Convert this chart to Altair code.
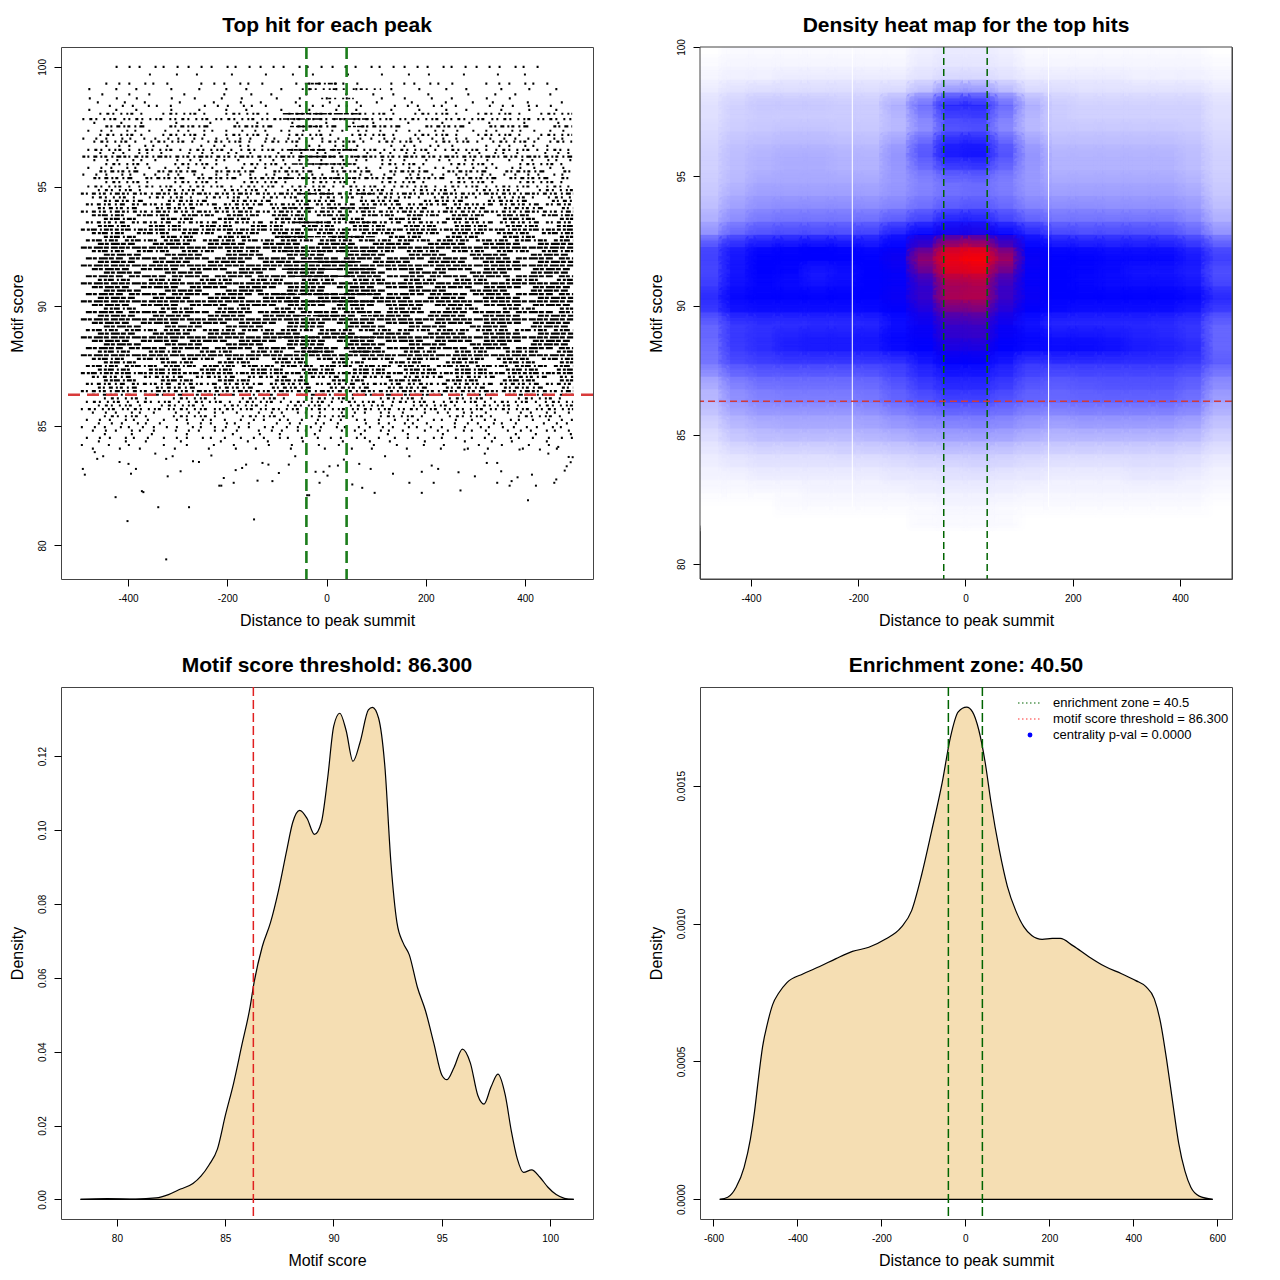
import altair as alt
import pandas as pd

FONT = "Liberation Sans"

# ---------------- values ----------------
enrichment_zone = 40.5
score_threshold = 86.3
titles = ["Top hit for each peak", "Density heat map for the top hits",
          "Motif score threshold: 86.300", "Enrichment zone: 40.50"]
legend_labels = ["enrichment zone = 40.5", "motif score threshold = 86.300",
                 "centrality p-val = 0.0000"]

# ---- panel 1: top hit per peak (rows of hits at discrete motif scores) ----
hit_span = [-495, 497]
sparse_score = [100.0, 99.68, 99.30, 99.07, 98.85, 98.68, 98.52, 98.37, 98.20, 98.04,
                97.82, 97.66, 97.51, 97.33, 97.16, 97.00, 96.88, 96.70, 96.53, 96.40,
                96.25, 96.10, 95.94, 95.78, 95.63, 95.50, 95.35, 95.18, 95.00]
sparse_x1 = [-425, -380, -492, -490, -488, -479, -485, -485, -490, -492,
             -492, -492, -492, -492, -492, -492, -492, -492, -492, -492,
             -492, -492, -492, -492, -492, -492, -492, -492, -492]
sparse_x2 = [438, 422, 488, 490, 470, 406, 480, 480, 492, 495,
             495, 495, 495, 495, 495, 495, 495, 495, 495, 495,
             495, 495, 495, 495, 495, 495, 495, 495, 495]
sparse_cls = [2, 1, 2, 1, 1, 1, 1, 2, 1, 3,
              3, 1, 4, 2, 3, 2, 3, 2, 3, 2,
              4, 2, 3, 2, 4, 2, 4, 3, 3]

dense_score = [94.85, 94.70, 94.55, 94.40, 94.25, 94.10, 93.95, 93.80, 93.65, 93.50,
               93.35, 93.20, 93.05, 92.90, 92.75, 92.60, 92.45, 92.30, 92.15, 92.00,
               91.85, 91.70, 91.55, 91.40, 91.25, 91.10, 90.95, 90.80, 90.65, 90.50,
               90.35, 90.20, 90.05, 89.90, 89.75, 89.60, 89.45, 89.30, 89.15, 89.00,
               88.85, 88.70, 88.55, 88.40, 88.25, 88.10, 87.95, 87.80, 87.65, 87.50,
               87.35, 87.20, 87.05, 86.90, 86.75, 86.60, 86.45, 86.30, 86.15, 86.00,
               85.85, 85.70, 85.55, 85.40, 85.25, 85.10, 84.95, 84.80, 84.65, 84.50,
               84.35, 84.20, 84.05]
dense_cls = [3, 4, 3, 4, 4, 4, 4, 5, 5, 4,
             5, 5, 5, 5, 5, 6, 6, 5, 6, 6,
             6, 6, 6, 6, 6, 5, 6, 6, 6, 6,
             6, 6, 6, 5, 6, 6, 6, 6, 6, 5,
             6, 6, 6, 6, 6, 5, 6, 5, 5, 5,
             5, 5, 4, 5, 4, 4, 4, 4, 3, 3,
             3, 3, 2, 3, 2, 2, 2, 2, 1, 2,
             1, 1, 1]

center_score = [99.30, 99.07, 98.68, 98.04, 97.82, 97.51, 96.53, 96.25, 95.94, 95.35,
                94.70, 94.10, 93.50, 92.90, 92.30, 91.85, 91.55, 91.25, 90.50, 90.20,
                89.60, 88.70, 88.10]
center_x1 = [-90, -60, -45, -88, -110, -120, -90, -90, -70, -120,
             -100, -100, -100, -100, -100, -100, -100, -100, -100, -100,
             -100, -100, -100]
center_x2 = [55, 110, 55, 68, 85, 85, 60, 70, 60, 85,
             100, 100, 100, 100, 100, 100, 100, 100, 100, 100,
             100, 100, 100]
center_cls = [5, 3, 3, 6, 6, 5, 6, 6, 6, 5,
              5, 5, 6, 6, 6, 7, 7, 7, 7, 6,
              6, 6, 6]

low_x = [-491, -487, -462, -450, -467, -425, -417, -399, -394, -384, -372, -369, -339, -401,
         -345, -323, -320, -310, -294, -277, -269, -257, -232, -216, -212, -207, -187, -183,
         -170, -162, -146, -139, -129, -117, -109, -96, -76, -63, -39, -35, -22, -14, -6, 2,
         6, 23, 35, 52, 66, 72, 89, 97, 118, 134, 167, 167, 192, 192, 212, 216, 225, 266,
         270, 278, 299, 319, 323, 344, 344, 352, 369, 373, 385, 389, 406, 414, 422, 430,
         459, 463, 480, 488, 492, 496, 447, 467, 484, -323]
low_score = [83.20, 82.96, 83.62, 83.73, 83.90, 82.02, 83.49, 83.41, 83.00, 83.20, 82.27, 82.23,
             81.60, 81.02, 83.84, 83.62, 82.89, 83.73, 83.10, 81.60, 83.52, 83.49, 83.76, 82.50,
             82.50, 82.82, 82.62, 83.15, 83.24, 83.38, 81.09, 82.71, 83.45, 83.38, 82.69, 83.03,
             83.38, 83.73, 82.10, 82.10, 83.08, 82.62, 83.08, 82.92, 83.31, 83.34, 83.59, 82.55,
             83.41, 82.41, 83.20, 82.20, 83.73, 83.00, 83.73, 82.62, 83.08, 82.20, 83.34, 82.62,
             83.20, 83.06, 82.30, 84.01, 82.89, 83.84, 83.45, 83.45, 82.62, 83.10, 82.50, 82.69,
             82.85, 84.01, 81.89, 82.96, 82.50, 84.01, 82.62, 82.76, 83.13, 83.70, 83.48, 83.69,
             83.84, 84.12, 83.31, 79.42]

# ---- panel 2: density heat map (percent scale: 50 = blue, 100 = red) ----
hm_col_edges = [-500, -450, -400, -350, -300, -250, -200, -150, -100, -50, 0,
                50, 100, 150, 200, 250, 300, 350, 400, 450, 500]
hm_row_edges = [100.0, 99.5, 99.0, 98.5, 98.0, 97.5, 97.0, 96.5, 96.0, 95.5, 95.0,
                94.5, 94.0, 93.5, 93.0, 92.5, 92.0, 91.5, 91.0, 90.5, 90.0,
                89.5, 89.0, 88.5, 88.0, 87.5, 87.0, 86.5, 86.0, 85.5, 85.0,
                84.5, 84.0, 83.5, 83.0, 82.5, 82.0, 81.5]
hm_values = [
    [0, 1, 1, 1, 1, 1, 1, 1, 3, 4, 4, 3, 1, 1, 1, 1, 1, 1, 1, 0],
    [1, 2, 2, 2, 2, 2, 2, 2, 4, 5, 5, 4, 2, 2, 2, 2, 2, 2, 2, 1],
    [2, 3, 3, 4, 4, 4, 4, 4, 6, 8, 8, 6, 4, 4, 4, 4, 3, 3, 3, 2],
    [4, 6, 7, 7, 7, 7, 7, 8, 14, 22, 22, 15, 8, 7, 6, 6, 6, 6, 6, 4],
    [6, 9, 11, 11, 11, 10, 10, 16, 29, 43, 43, 30, 16, 10, 9, 9, 9, 9, 9, 6],
    [6, 9, 10, 10, 10, 10, 10, 14, 24, 36, 37, 25, 14, 10, 9, 9, 9, 9, 9, 6],
    [7, 10, 11, 12, 12, 11, 11, 14, 22, 33, 34, 23, 14, 11, 11, 11, 11, 11, 10, 7],
    [8, 12, 13, 14, 14, 13, 13, 19, 31, 44, 45, 32, 19, 13, 13, 13, 13, 13, 12, 8],
    [9, 13, 15, 16, 16, 15, 15, 21, 33, 45, 46, 34, 21, 15, 15, 15, 15, 15, 13, 9],
    [9, 13, 15, 16, 16, 15, 15, 20, 28, 36, 37, 29, 20, 15, 15, 15, 15, 15, 13, 9],
    [10, 14, 17, 17, 17, 17, 17, 20, 24, 28, 29, 25, 20, 17, 17, 17, 17, 17, 15, 10],
    [11, 16, 19, 19, 19, 19, 19, 21, 25, 28, 29, 26, 21, 19, 19, 19, 19, 19, 17, 11],
    [13, 19, 22, 23, 23, 23, 23, 25, 29, 33, 34, 30, 25, 23, 23, 22, 22, 22, 20, 13],
    [16, 23, 27, 28, 28, 28, 29, 33, 38, 45, 45, 38, 32, 28, 28, 28, 28, 28, 24, 16],
    [22, 31, 35, 36, 36, 36, 38, 45, 50, 54, 55, 50, 44, 37, 36, 36, 36, 35, 31, 22],
    [36, 44, 48, 49, 50, 49, 48, 50, 64, 88, 90, 68, 50, 48, 47, 46, 46, 46, 42, 34],
    [37, 46, 50, 50, 50, 50, 50, 53, 80, 97, 100, 83, 52, 50, 50, 49, 49, 49, 46, 38],
    [36, 46, 50, 49, 45, 47, 50, 51, 68, 92, 93, 69, 51, 50, 49, 48, 46, 46, 44, 34],
    [38, 47, 49, 48, 47, 48, 50, 51, 59, 81, 83, 61, 51, 50, 49, 48, 48, 48, 46, 37],
    [42, 49, 50, 50, 50, 50, 50, 52, 61, 84, 85, 62, 52, 50, 50, 50, 50, 50, 49, 43],
    [38, 46, 47, 47, 47, 47, 48, 50, 55, 70, 72, 56, 50, 48, 47, 47, 47, 47, 45, 37],
    [30, 38, 40, 40, 41, 41, 42, 47, 52, 61, 62, 52, 46, 42, 42, 42, 42, 41, 39, 30],
    [30, 39, 41, 44, 45, 45, 46, 49, 51, 59, 60, 51, 49, 47, 47, 46, 44, 43, 40, 30],
    [28, 38, 41, 44, 45, 45, 45, 48, 50, 54, 54, 50, 48, 48, 48, 47, 45, 44, 42, 30],
    [27, 35, 37, 38, 38, 38, 38, 39, 45, 50, 50, 45, 39, 40, 40, 40, 40, 40, 38, 32],
    [20, 28, 31, 31, 31, 31, 32, 36, 41, 45, 45, 41, 36, 34, 35, 35, 35, 35, 33, 25],
    [15, 23, 26, 27, 27, 27, 28, 32, 37, 41, 41, 37, 32, 31, 32, 33, 33, 33, 30, 21],
    [14, 21, 24, 25, 25, 25, 26, 30, 33, 36, 36, 33, 30, 29, 30, 30, 30, 30, 27, 18],
    [11, 16, 19, 19, 19, 19, 20, 23, 26, 28, 28, 26, 23, 22, 23, 23, 23, 23, 21, 14],
    [8, 13, 15, 16, 16, 16, 17, 19, 21, 22, 23, 21, 19, 17, 18, 18, 18, 18, 16, 11],
    [6, 10, 12, 12, 12, 12, 13, 14, 16, 17, 17, 16, 14, 13, 13, 13, 13, 13, 12, 8],
    [4, 6, 7, 7, 7, 8, 8, 9, 10, 11, 11, 10, 9, 8, 8, 8, 8, 8, 7, 5],
    [3, 4, 5, 5, 5, 5, 5, 6, 7, 7, 8, 7, 6, 5, 5, 5, 6, 6, 5, 3],
    [2, 2, 3, 3, 3, 3, 3, 4, 4, 5, 5, 4, 4, 3, 3, 3, 4, 4, 3, 2],
    [1, 1, 1, 1, 2, 2, 2, 2, 3, 3, 3, 3, 2, 2, 2, 2, 2, 2, 2, 1],
    [0, 0, 0, 1, 1, 1, 1, 1, 1, 2, 2, 1, 1, 1, 1, 1, 1, 1, 1, 0],
    [0, 0, 0, 0, 0, 0, 0, 0, 1, 1, 1, 1, 0, 0, 0, 0, 0, 0, 0, 0],
]
hm_seam_x = [-211, 155]
hm_seam_bottom = 82.2

# ---- panel 3: density of motif scores ----
score_x = [78.32, 79.55, 80.87, 81.81, 82.38, 82.94, 83.51, 83.88, 84.26, 84.64,
           85.01, 85.39, 85.77, 86.15, 86.33, 86.71, 87.09, 87.46, 87.84, 88.12,
           88.44, 88.78, 89.12, 89.44, 89.73, 90.01, 90.29, 90.58, 90.90, 91.23,
           91.61, 91.80, 92.08, 92.37, 92.65, 92.93, 93.21, 93.50, 93.87, 94.25,
           94.63, 95.00, 95.23, 95.57, 95.95, 96.32, 96.66, 96.95, 97.27, 97.59,
           97.93, 98.21, 98.49, 98.77, 99.15, 99.53, 99.90, 100.28, 100.66, 101.09]
score_density = [0.0000, 0.0002, 0.0001, 0.0004, 0.0013, 0.0028, 0.0043, 0.0063, 0.0094, 0.0136,
                 0.0228, 0.0315, 0.0418, 0.0521, 0.0586, 0.0684, 0.0749, 0.0836, 0.0945, 0.1021,
                 0.1053, 0.1031, 0.0988, 0.1021, 0.1140, 0.1281, 0.1316, 0.1270, 0.1186, 0.1238,
                 0.1325, 0.1332, 0.1303, 0.1173, 0.0912, 0.0749, 0.0695, 0.0662, 0.0575, 0.0510,
                 0.0423, 0.0337, 0.0324, 0.0358, 0.0407, 0.0369, 0.0282, 0.0258, 0.0304, 0.0339,
                 0.0282, 0.0185, 0.0109, 0.0073, 0.0080, 0.0060, 0.0033, 0.0013, 0.0003, 0.0000]

# ---- panel 4: density of distances to the summit ----
dist_x = [-585, -566, -546, -527, -512, -502, -493, -483, -471, -459, -444, -425, -386,
          -347, -308, -269, -230, -191, -153, -128, -104, -80, -55, -36, -17, 3, 17, 32,
          47, 61, 81, 100, 120, 139, 158, 183, 207, 226, 256, 294, 333, 372, 406, 430,
          450, 465, 479, 494, 508, 523, 537, 557, 589]
dist_density = [0.0, 0.0000073, 0.0000436, 0.000116, 0.000218, 0.00032, 0.000436, 0.000553,
                0.00064, 0.000706, 0.000749, 0.000786, 0.000818, 0.000844, 0.000873, 0.000899,
                0.000914, 0.000943, 0.000986, 0.001047, 0.001178, 0.001338, 0.001513, 0.001673,
                0.001768, 0.001785, 0.001768, 0.001702, 0.001586, 0.00144, 0.001266, 0.001135,
                0.001047, 0.000989, 0.000957, 0.000943, 0.000946, 0.000946, 0.00092, 0.00088,
                0.000844, 0.000818, 0.000793, 0.000771, 0.000727, 0.00064, 0.000509, 0.000349,
                0.000204, 0.000102, 0.0000436, 0.0000116, 0.0]

# ---------------- styles ----------------
W = H = 532
BASE_DASH = {
    1: [2, 25, 2, 18, 2, 33, 2, 21],
    2: [2, 11, 2, 8, 2, 14, 2, 6, 2, 12, 2, 9],
    3: [2, 5, 3, 3, 2, 6, 2, 4, 2, 2, 3, 7, 2, 3],
    4: [3, 2, 2, 4, 4, 3, 2, 2, 3, 4, 2, 3, 5, 2],
    5: [4, 2, 3, 1, 6, 3, 2, 2, 5, 1, 3, 2],
    6: [6, 1, 4, 2, 9, 1, 5, 2, 7, 1],
    7: [20, 1, 14, 1, 25, 1],
}
SHIFTS = [0, 11, 23, 5, 17]
DASHES = {}
for c, pat in BASE_DASH.items():
    for k, s in enumerate(SHIFTS):
        DASHES[f"{c}_{k}"] = pat if s == 0 else [0, s] + pat
dash_scale = alt.Scale(domain=list(DASHES.keys()), range=list(DASHES.values()))


def title(t, offset=10):
    return alt.TitleParams(text=t, font=FONT, fontSize=21, fontWeight="bold",
                           color="black", offset=offset, anchor="middle", frame="group")


def xaxis(values, t, fmt=None):
    kw = dict(values=values, title=t, tickSize=7, labelPadding=12, labelBaseline="middle",
              titleX=W / 2, titleY=41, titleBaseline="middle", titleAlign="center")
    if fmt:
        kw["format"] = fmt
    else:
        kw["labelExpr"] = "'' + datum.value"
    return alt.Axis(**kw)


def yaxis(values, t, fmt=None):
    kw = dict(values=values, title=t, tickSize=7, labelPadding=12, labelAngle=270,
              labelAlign="center", labelBaseline="middle",
              titleX=-44, titleY=H / 2, titleAngle=270, titleAlign="center",
              titleBaseline="middle")
    if fmt:
        kw["format"] = fmt
    else:
        kw["labelExpr"] = "'' + datum.value"
    return alt.Axis(**kw)


box_df = pd.DataFrame({"k": [0]})


def frame_box():
    return alt.Chart(box_df).mark_rect(fill="white", fillOpacity=0, stroke="#444444", strokeWidth=1).encode(
        x=alt.value(0), x2=alt.value(W), y=alt.value(0), y2=alt.value(H))


# ---------------- panel 1 ----------------
X1 = alt.Scale(domain=[-535, 537], nice=False, zero=False)
Y1 = alt.Scale(domain=[78.6, 100.83], nice=False, zero=False)
ax1x = xaxis([-400, -200, 0, 200, 400], "Distance to peak summit")
ax1y = yaxis([80, 85, 90, 95, 100], "Motif score")

n_d = len(dense_score)
rows_df = pd.DataFrame({
    "score": sparse_score + dense_score,
    "x1": sparse_x1 + [hit_span[0]] * n_d,
    "x2": sparse_x2 + [hit_span[1]] * n_d,
    "cls": sparse_cls + dense_cls,
})
rows_df["pat"] = [f"{c}_{i % 5}" for i, c in enumerate(rows_df["cls"])]
center_df = pd.DataFrame({"score": center_score, "x1": center_x1, "x2": center_x2, "cls": center_cls})
center_df["pat"] = [f"{c}_{(i + 2) % 5}" for i, c in enumerate(center_df["cls"])]
low_df = pd.DataFrame({"x": low_x, "score": low_score})


def row_layer(df, width):
    return alt.Chart(df).mark_rule(strokeWidth=width, color="black").encode(
        x=alt.X("x1:Q", scale=X1, axis=ax1x),
        x2="x2:Q",
        y=alt.Y("score:Q", scale=Y1, axis=ax1y),
        strokeDash=alt.StrokeDash("pat:N", scale=dash_scale, legend=None),
    )


p1_points = alt.Chart(low_df).mark_square(size=4, color="black", opacity=1).encode(
    x=alt.X("x:Q", scale=X1, axis=ax1x), y=alt.Y("score:Q", scale=Y1, axis=ax1y))
ez_df = pd.DataFrame({"x": [-enrichment_zone, enrichment_zone]})
th_df = pd.DataFrame({"y": [score_threshold]})
p1_green = alt.Chart(ez_df).mark_rule(color="#1b7d1b", strokeWidth=2.6, strokeDash=[12, 6]).encode(
    x=alt.X("x:Q", scale=X1, axis=ax1x))
p1_red = alt.Chart(th_df).mark_rule(color="#d83a3a", strokeWidth=2.6, strokeDash=[12, 7]).encode(
    y=alt.Y("y:Q", scale=Y1, axis=ax1y))
p1 = alt.layer(row_layer(rows_df, 2.2), row_layer(center_df, 1.6), p1_points, p1_green, p1_red).properties(
    width=W, height=H, title=title(titles[0]))

# ---------------- panel 2 ----------------
X2 = alt.Scale(domain=[-495, 497], nice=False, zero=False)
Y2 = alt.Scale(domain=[79.42, 100], nice=False, zero=False)
ax2x = xaxis([-400, -200, 0, 200, 400], "Distance to peak summit")
ax2y = yaxis([80, 85, 90, 95, 100], "Motif score")
cells = []
for r, row in enumerate(hm_values):
    for c, v in enumerate(row):
        cells.append({"x_lo": hm_col_edges[c], "x_hi": hm_col_edges[c + 1],
                      "y_lo": hm_row_edges[r + 1], "y_hi": hm_row_edges[r], "v": v})
cells_df = pd.DataFrame(cells)
heat_scale = alt.Scale(domain=[0, 50, 100], range=["#ffffff", "#0000ff", "#ff0000"], interpolate="rgb")
heat_enc = dict(
    x=alt.X("x_lo:Q", scale=X2, axis=ax2x), x2="x_hi:Q",
    y=alt.Y("y_lo:Q", scale=Y2, axis=ax2y), y2="y_hi:Q",
)
# pass 1: cell fills
p2_heat = alt.Chart(cells_df).mark_rect(clip=True, strokeWidth=0.6).encode(
    color=alt.Color("v:Q", scale=heat_scale, legend=None),
    stroke=alt.Stroke("v:Q", scale=heat_scale, legend=None),
    **heat_enc,
)
# pass 2: soft translucent cell edges so neighbouring cells blend into each other
p2_soft = alt.Chart(cells_df).mark_rect(clip=True, fillOpacity=0, strokeWidth=12,
                                        strokeOpacity=0.38, strokeJoin="round").encode(
    stroke=alt.Stroke("v:Q", scale=heat_scale, legend=None),
    **heat_enc,
)
p2_soft2 = alt.Chart(cells_df).mark_rect(clip=True, fillOpacity=0, strokeWidth=5,
                                         strokeOpacity=0.3, strokeJoin="round").encode(
    stroke=alt.Stroke("v:Q", scale=heat_scale, legend=None),
    **heat_enc,
)
seam_df = pd.DataFrame({"x": hm_seam_x, "y": [hm_seam_bottom] * len(hm_seam_x), "y2": [100] * len(hm_seam_x)})
p2_seam = alt.Chart(seam_df).mark_rule(color="white", strokeWidth=1).encode(
    x=alt.X("x:Q", scale=X2, axis=ax2x), y=alt.Y("y:Q", scale=Y2, axis=ax2y), y2="y2:Q")
p2_green = alt.Chart(ez_df).mark_rule(color="#006400", strokeWidth=1.5, strokeDash=[7, 4]).encode(
    x=alt.X("x:Q", scale=X2, axis=ax2x))
p2_red = alt.Chart(th_df).mark_rule(color="#d03a3a", strokeWidth=1.5, strokeDash=[7, 4]).encode(
    y=alt.Y("y:Q", scale=Y2, axis=ax2y))
p2 = alt.layer(p2_heat, p2_soft, p2_soft2, p2_seam, p2_green, p2_red, frame_box()).properties(
    width=W, height=H, title=title(titles[1], offset=3))

# ---------------- panel 3 ----------------
X3 = alt.Scale(domain=[77.42, 101.98], nice=False, zero=False)
Y3 = alt.Scale(domain=[-0.0053, 0.1387], nice=False, zero=False)
ax3x = xaxis([80, 85, 90, 95, 100], "Motif score")
ax3y = yaxis([0, 0.02, 0.04, 0.06, 0.08, 0.10, 0.12], "Density", fmt=".2f")
sd_df = pd.DataFrame({"x": score_x, "d": score_density, "base": [0.0] * len(score_x)})


def density_layers(df, xs, ys, ax, ay):
    fill = alt.Chart(df).mark_area(interpolate="monotone", color="#F5DEB3", opacity=1).encode(
        x=alt.X("x:Q", scale=xs, axis=ax), y=alt.Y("d:Q", scale=ys, axis=ay), y2="base:Q")
    line = alt.Chart(df).mark_line(interpolate="monotone", color="black", strokeWidth=1.2).encode(
        x=alt.X("x:Q", scale=xs, axis=ax), y=alt.Y("d:Q", scale=ys, axis=ay))
    base = alt.Chart(df).mark_line(color="black", strokeWidth=1.2).encode(
        x=alt.X("x:Q", scale=xs, axis=ax), y=alt.Y("base:Q", scale=ys, axis=ay))
    return [fill, line, base]


th3_df = pd.DataFrame({"x": [score_threshold]})
p3_red = alt.Chart(th3_df).mark_rule(color="#e02020", strokeWidth=1.5, strokeDash=[9, 4]).encode(
    x=alt.X("x:Q", scale=X3, axis=ax3x))
p3 = alt.layer(*density_layers(sd_df, X3, Y3, ax3x, ax3y), p3_red).properties(
    width=W, height=H, title=title(titles[2]))

# ---------------- panel 4 ----------------
X4 = alt.Scale(domain=[-632, 635], nice=False, zero=False)
Y4 = alt.Scale(domain=[-0.0000715, 0.001858], nice=False, zero=False)
ax4x = xaxis([-600, -400, -200, 0, 200, 400, 600], "Distance to peak summit")
ax4y = yaxis([0, 0.0005, 0.0010, 0.0015], "Density", fmt=".4f")
dd_df = pd.DataFrame({"x": dist_x, "d": dist_density, "base": [0.0] * len(dist_x)})
p4_green = alt.Chart(ez_df).mark_rule(color="#006400", strokeWidth=1.5, strokeDash=[9, 4]).encode(
    x=alt.X("x:Q", scale=X4, axis=ax4x))

legend_layers = []
leg_y = [16, 32, 48]
for i, lab in enumerate(legend_labels):
    legend_layers.append(
        alt.Chart(pd.DataFrame({"label": [lab]})).mark_text(
            align="left", baseline="middle", font=FONT, fontSize=13, color="black").encode(
            x=alt.value(353), y=alt.value(leg_y[i]), text="label:N"))
legend_layers.append(
    alt.Chart(box_df).mark_rule(color="#006400", strokeWidth=1.2, strokeDash=[1.5, 2.5]).encode(
        x=alt.value(318), x2=alt.value(342), y=alt.value(leg_y[0])))
legend_layers.append(
    alt.Chart(box_df).mark_rule(color="#ff3030", strokeWidth=1.2, strokeDash=[1.5, 2.5]).encode(
        x=alt.value(318), x2=alt.value(342), y=alt.value(leg_y[1])))
legend_layers.append(
    alt.Chart(box_df).mark_circle(color="#0000ff", size=24, opacity=1).encode(
        x=alt.value(330), y=alt.value(leg_y[2])))

p4 = alt.layer(*density_layers(dd_df, X4, Y4, ax4x, ax4y), p4_green, *legend_layers).properties(
    width=W, height=H, title=title(titles[3]))

chart = alt.concat(p1, p2, p3, p4, columns=2, spacing={"row": 108, "column": 107},
                   bounds="flush").properties(
    padding={"left": 0, "top": 6, "right": 5, "bottom": 5}
).configure_view(
    stroke="#444444", strokeWidth=1
).configure_axis(
    labelFont=FONT, labelFontSize=10, labelColor="black",
    titleFont=FONT, titleFontSize=16, titleFontWeight="normal", titleColor="black",
    tickColor="black", tickWidth=1, domain=False, grid=False,
)

chart.save("out.html", embed_options={"renderer": "svg", "actions": False})
